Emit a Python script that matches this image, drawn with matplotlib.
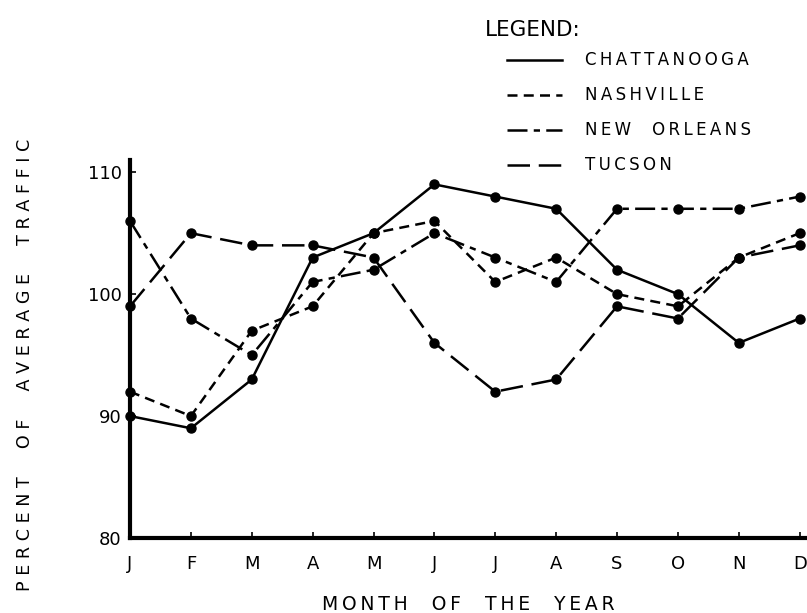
import matplotlib
matplotlib.use("Agg")
import matplotlib.pyplot as plt
from matplotlib.lines import Line2D

months = ["J", "F", "M", "A", "M", "J", "J", "A", "S", "O", "N", "D"]
chattanooga = [90, 89, 93, 103, 105, 109, 108, 107, 102, 100, 96, 98]
nashville = [92, 90, 97, 99, 105, 106, 101, 103, 100, 99, 103, 105]
new_orleans = [106, 98, 95, 101, 102, 105, 103, 101, 107, 107, 107, 108]
tucson = [99, 105, 104, 104, 103, 96, 92, 93, 99, 98, 103, 104]
yticks = [80, 90, 100, 110]
series_names = ["CHATTANOOGA", "NASHVILLE", "NEW ORLEANS", "TUCSON"]


def spaced(text, letter_gap, word_gap):
    return word_gap.join(letter_gap.join(w) for w in text.split(" "))


plt.rcParams['font.family'] = ['DejaVu Sans']
fig = plt.figure(figsize=(8.07, 6.13), dpi=100)
fig.patch.set_facecolor("white")
ax = fig.add_axes([130/807, 1-538/613, 677/807, 378/613])

styles = [
    dict(linestyle="-"),
    dict(linestyle=(0, (4, 2.5))),
    dict(linestyle=(0, (8, 2.5, 2.5, 2.5))),
    dict(linestyle=(0, (9, 3.5))),
]
x = list(range(len(months)))
for vals, st in zip([chattanooga, nashville, new_orleans, tucson], styles):
    ax.plot(x, vals, color="black", lw=1.8, marker="o", ms=6.5,
            clip_on=False, zorder=3, **st)

ax.set_xlim(0, 11.12)
ax.set_ylim(80, 111)
ax.set_xticks(x)
ax.set_xticklabels(months)
ax.set_yticks(yticks)
ax.set_yticklabels([str(v) for v in yticks])
for s in ["top", "right"]:
    ax.spines[s].set_visible(False)
for s in ["left", "bottom"]:
    ax.spines[s].set_linewidth(3)
ax.tick_params(axis="x", direction="in", length=4, width=1.2, pad=12, labelsize=13)
ax.tick_params(axis="y", direction="in", length=4, width=1.2, pad=6, labelsize=13)

ax.set_xlabel(spaced("MONTH OF THE YEAR", "\u2009", "    "), fontsize=13.5, labelpad=16)
ax.set_ylabel(spaced("PERCENT OF AVERAGE TRAFFIC", " ", "     "), fontsize=12.6)
ax.yaxis.set_label_coords(-96/677, (538-365)/378)

# legend
fig.text(485/807, 1-30/613, "LEGEND:", fontsize=15.5, ha="left", va="center")
ys = [60, 95, 130, 165]
for name, st, yy in zip(series_names, styles, ys):
    fy = 1 - yy/613
    fig.add_artist(Line2D([507/807, 562/807], [fy, fy], color="black", lw=1.8,
                          transform=fig.transFigure, **st))
    fig.text(585/807, fy, spaced(name, "\u2009", "    "), fontsize=12,
             ha="left", va="center")

fig.savefig("out.png", dpi=100)
